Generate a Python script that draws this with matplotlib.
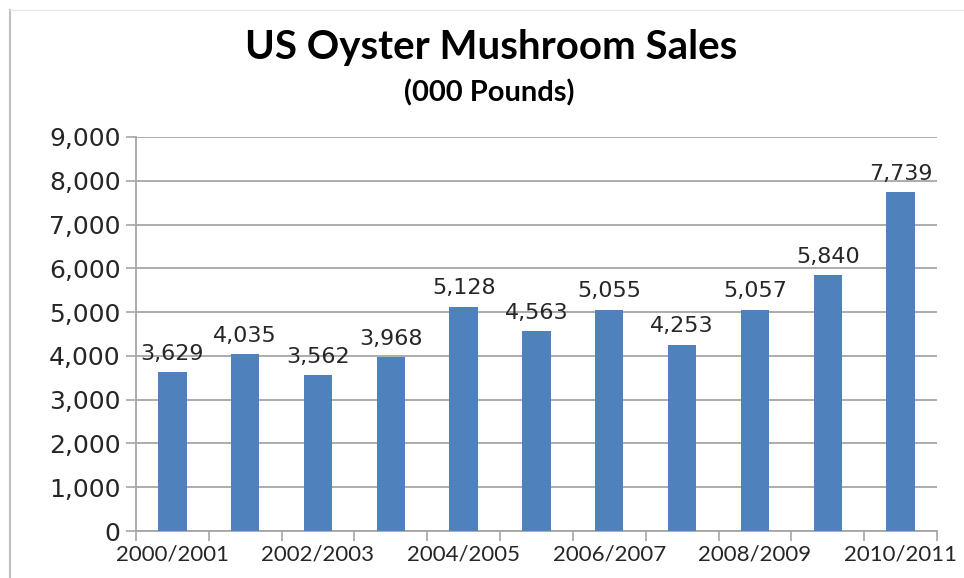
import matplotlib
matplotlib.use("Agg")
import matplotlib.pyplot as plt
from matplotlib.ticker import FuncFormatter, FixedLocator
from matplotlib.lines import Line2D

# --- Data ---
seasons = ["2000/2001", "2001/2002", "2002/2003", "2003/2004", "2004/2005",
           "2005/2006", "2006/2007", "2007/2008", "2008/2009", "2009/2010",
           "2010/2011"]
sales = [3629, 4035, 3562, 3968, 5128, 4563, 5055, 4253, 5057, 5840, 7739]
y_ticks = [0, 1000, 2000, 3000, 4000, 5000, 6000, 7000, 8000, 9000]

BAR_COLOR = "#4F81BD"
GRID_COLOR = "#A6A6A6"
TEXT_COLOR = "#262626"

fig = plt.figure(figsize=(9.64, 5.78), dpi=100)
ax = fig.add_axes([0.141, 0.0813, 0.831, 0.6817])

x = list(range(len(sales)))
ax.bar(x, sales, width=0.39, color=BAR_COLOR, zorder=3)

# value labels above each bar
for xi, v in zip(x, sales):
    ax.annotate(f"{v:,}", (xi, v), xytext=(0, 6), textcoords="offset points",
                ha="center", va="bottom", fontsize=16, color=TEXT_COLOR,
                family="DejaVu Sans")

# y axis
ax.set_ylim(0, 9000)
ax.set_yticks(y_ticks)
ax.yaxis.set_major_formatter(FuncFormatter(lambda v, p: f"{int(v):,}"))
ax.tick_params(axis="y", labelsize=18, colors=GRID_COLOR, labelcolor=TEXT_COLOR,
               length=7, width=1.2, pad=4)
ax.yaxis.grid(True, color=GRID_COLOR, linewidth=1.3, zorder=0)

# x axis: ticks on category boundaries, labels on every other season
ax.set_xlim(-0.5, len(sales) - 0.5)
ax.xaxis.set_major_locator(FixedLocator([i - 0.5 for i in range(len(sales) + 1)]))
ax.xaxis.set_major_formatter(FuncFormatter(lambda v, p: ""))
ax.xaxis.set_minor_locator(FixedLocator(x[::2]))
ax.set_xticklabels(seasons[::2], minor=True)
ax.tick_params(axis="x", which="major", length=7, width=1.2, color=GRID_COLOR)
ax.tick_params(axis="x", which="minor", length=0, pad=10, labelsize=16,
               labelcolor=TEXT_COLOR)
for lbl in ax.get_xticklabels(minor=True):
    lbl.set_family("Lato")

for side in ("top", "right"):
    ax.spines[side].set_visible(False)
for side in ("left", "bottom"):
    ax.spines[side].set_color(GRID_COLOR)
    ax.spines[side].set_linewidth(1.3)

# titles
fig.text(0.509, 0.917, "US Oyster Mushroom Sales", ha="center", va="center",
         fontsize=29, fontweight="bold", family="Lato", color="black")
fig.text(0.508, 0.839, "(000 Pounds)", ha="center", va="center",
         fontsize=21, fontweight="bold", family="Lato", color="black")

# outer chart frame
fig.add_artist(Line2D([0.0105, 0.0105], [0, 0.983], transform=fig.transFigure,
                      color="#BFBFBF", linewidth=1.5))
fig.add_artist(Line2D([0.0105, 1.0], [0.983, 0.983], transform=fig.transFigure,
                      color="#E6E6E6", linewidth=1.0))

fig.savefig("out.png", dpi=100)
